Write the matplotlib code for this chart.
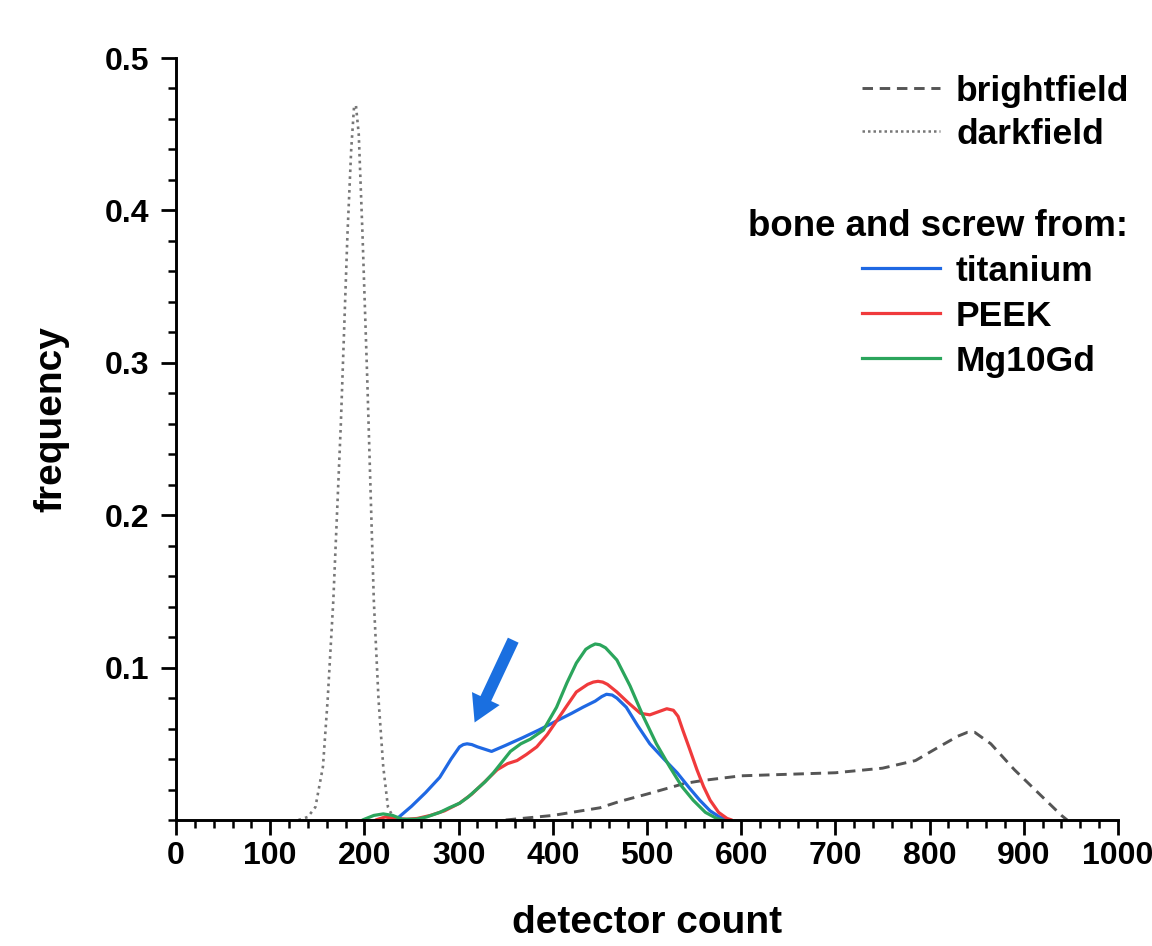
import matplotlib
matplotlib.use("Agg")
import matplotlib.pyplot as plt
from matplotlib.ticker import MultipleLocator, FixedLocator, FormatStrFormatter
from matplotlib.lines import Line2D
from matplotlib.patches import FancyArrowPatch

plt.rcParams['font.family'] = ['Liberation Sans', 'DejaVu Sans']
plt.rcParams['font.weight'] = 'bold'

# ---------------- data ----------------
dark_x = [130, 140, 148, 156, 161, 167, 175, 182, 186, 189, 191, 194, 198, 203, 210, 215, 220, 225, 232]
dark_y = [0.0, 0.002, 0.0085, 0.035, 0.079, 0.144, 0.26, 0.384, 0.44, 0.468, 0.469, 0.45, 0.384, 0.29, 0.144, 0.079, 0.035, 0.0085, 0.0]

bright_x = [350, 400, 450, 470, 500, 540, 560, 600, 650, 700, 750, 785, 810, 830, 840, 848, 865, 890, 915, 940, 946]
bright_y = [0.0, 0.003, 0.008, 0.012, 0.017, 0.024, 0.026, 0.029, 0.030, 0.031, 0.034, 0.039, 0.048, 0.055, 0.0575, 0.0575, 0.050, 0.033, 0.018, 0.003, 0.0]

ti_x = [233, 250, 265, 280, 292, 301, 305, 309, 314, 320, 335, 350, 368, 385, 404, 420, 432, 445, 452, 457, 463, 468, 478, 490, 503, 518, 532, 545, 556, 567, 577, 585]
ti_y = [0.0, 0.009, 0.018, 0.028, 0.040, 0.048, 0.0495, 0.050, 0.0495, 0.048, 0.045, 0.049, 0.054, 0.059, 0.065, 0.070, 0.074, 0.078, 0.081, 0.0825, 0.082, 0.080, 0.074, 0.062, 0.050, 0.040, 0.031, 0.021, 0.013, 0.006, 0.002, 0.0]

peek_x = [212, 222, 232, 245, 256, 270, 285, 301, 314, 326, 341, 352, 362, 372, 383, 394, 404, 415, 425, 437, 443, 448, 453, 458, 468, 480, 493, 503, 512, 521, 528, 533, 538, 545, 553, 560, 567, 576, 585, 590]
peek_y = [0.0, 0.002, 0.001, 0.0005, 0.001, 0.003, 0.006, 0.011, 0.017, 0.024, 0.033, 0.037, 0.039, 0.043, 0.048, 0.056, 0.065, 0.075, 0.084, 0.089, 0.0905, 0.091, 0.0905, 0.089, 0.084, 0.077, 0.070, 0.069, 0.071, 0.073, 0.072, 0.068, 0.059, 0.047, 0.033, 0.022, 0.013, 0.005, 0.001, 0.0]

mg_x = [198, 210, 220, 230, 240, 255, 266, 280, 290, 301, 310, 319, 328, 337, 346, 355, 366, 376, 390, 404, 415, 425, 435, 440, 445, 450, 456, 468, 482, 496, 510, 524, 537, 549, 562, 574, 580]
mg_y = [0.0, 0.003, 0.004, 0.003, 0.0005, 0.0005, 0.002, 0.005, 0.008, 0.011, 0.015, 0.020, 0.025, 0.031, 0.038, 0.045, 0.050, 0.053, 0.059, 0.074, 0.090, 0.103, 0.112, 0.114, 0.1155, 0.115, 0.113, 0.105, 0.088, 0.068, 0.050, 0.035, 0.022, 0.013, 0.005, 0.001, 0.0]

x_ticks = [0, 100, 200, 300, 400, 500, 600, 700, 800, 900, 1000]
y_ticks = [0.1, 0.2, 0.3, 0.4, 0.5]

arrow_tail = (358, 0.118)
arrow_head = (317, 0.064)

C_BLUE = '#1f68e3'
C_RED = '#f03a3c'
C_GREEN = '#2ba55c'
C_DASH = '#555555'
C_DOT = '#777777'

# ---------------- figure ----------------
W, H = 1152, 946
fig = plt.figure(figsize=(W / 100, H / 100), dpi=100)
ax = fig.add_axes([176 / W, 1 - 820 / H, (1118 - 176) / W, (820 - 58) / H])

ax.plot(dark_x, dark_y, color=C_DOT, lw=1.9, linestyle=(0, (1, 1.6)))
ax.plot(bright_x, bright_y, color=C_DASH, lw=2.1, linestyle=(0, (3.6, 2.3)))
for xs, ys, c in [(ti_x, ti_y, C_BLUE), (peek_x, peek_y, C_RED), (mg_x, mg_y, C_GREEN)]:
    ax.plot(xs, ys, color=c, lw=2.3, solid_joinstyle='round', solid_capstyle='round')

arr = FancyArrowPatch(arrow_tail, arrow_head,
                      arrowstyle='simple,head_length=1.9,head_width=2.2,tail_width=0.85',
                      mutation_scale=10, color='#1a6fe0', lw=0, shrinkA=0, shrinkB=0)
ax.add_patch(arr)

ax.set_xlim(0, 1000)
ax.set_ylim(0, 0.5)
ax.xaxis.set_major_locator(FixedLocator(x_ticks))
ax.xaxis.set_minor_locator(MultipleLocator(20))
ax.yaxis.set_major_locator(FixedLocator(y_ticks))
ax.yaxis.set_minor_locator(MultipleLocator(0.02))
ax.yaxis.set_major_formatter(FormatStrFormatter('%.1f'))

for s in ['top', 'right']:
    ax.spines[s].set_visible(False)
for s in ['left', 'bottom']:
    ax.spines[s].set_linewidth(2.1)

ax.tick_params(which='major', direction='out', length=11, width=2.0, labelsize=23)
ax.tick_params(which='minor', direction='out', length=5.5, width=1.8)
ax.tick_params(axis='x', which='major', pad=4)
ax.tick_params(axis='y', which='major', pad=8)
for lab in ax.get_xticklabels() + ax.get_yticklabels():
    lab.set_fontweight('bold')

ax.set_xlabel('detector count', fontsize=28, fontweight='bold', va='baseline')
ax.xaxis.set_label_coords(0.5, (820 - 933) / 762)
ax.set_ylabel('frequency', fontsize=28, fontweight='bold', va='center')
ax.yaxis.set_label_coords((51 - 176) / 942, (820 - 419) / 762)

# ---------------- legend (manual) ----------------
def fx(px):
    return px / W

def fy(py):
    return 1 - py / H

entries = [
    ('brightfield', 88, dict(color=C_DASH, lw=2.1, linestyle=(0, (3.6, 2.3)))),
    ('darkfield', 131, dict(color=C_DOT, lw=1.8, linestyle=(0, (1, 1.2)))),
    ('titanium', 268, dict(color=C_BLUE, lw=2.3)),
    ('PEEK', 313, dict(color=C_RED, lw=2.3)),
    ('Mg10Gd', 358, dict(color=C_GREEN, lw=2.3)),
]
for label, py, style in entries:
    fig.add_artist(Line2D([fx(862), fx(940)], [fy(py), fy(py)], transform=fig.transFigure, **style))
    fig.text(fx(956), fy(py), label, fontsize=25.5, fontweight='bold', ha='left', va='center_baseline')

fig.text(fx(1128), fy(222), 'bone and screw from:', fontsize=26.4, fontweight='bold',
         ha='right', va='center_baseline')

fig.savefig('out.png', dpi=100, facecolor='white')
